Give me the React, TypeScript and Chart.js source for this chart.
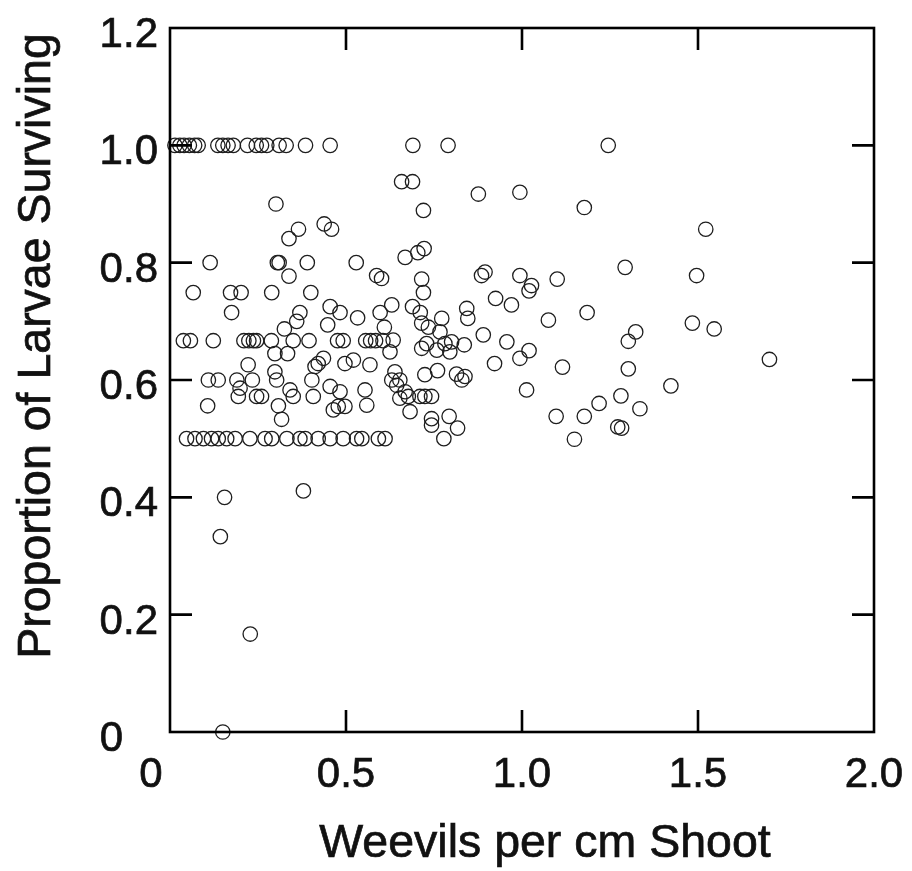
import React, { useEffect, useRef } from 'react';
import { Chart, registerables } from 'chart.js';

Chart.register(...registerables);

// ---- Data ----
// Points at full survival (1.0)
const fullX = [0.014, 0.028, 0.04, 0.055, 0.07, 0.08, 0.136, 0.15, 0.165, 0.18, 0.22, 0.245, 0.26, 0.275, 0.31, 0.33, 0.385, 0.455, 0.69, 0.79, 1.245];
const fullY = [1.0, 1.0, 1.0, 1.0, 1.0, 1.0, 1.0, 1.0, 1.0, 1.0, 1.0, 1.0, 1.0, 1.0, 1.0, 1.0, 1.0, 1.0, 1.0, 1.0, 1.0];

// Points at two-thirds survival
const twoThirdsX = [0.038, 0.058, 0.123, 0.21, 0.224, 0.237, 0.246, 0.288, 0.35, 0.395, 0.476, 0.492, 0.556, 0.57, 0.584, 0.605];
const twoThirdsY = [0.667, 0.667, 0.667, 0.667, 0.667, 0.667, 0.667, 0.667, 0.667, 0.667, 0.667, 0.667, 0.667, 0.667, 0.667, 0.667];

// Points at half survival
const halfX = [0.047, 0.071, 0.095, 0.118, 0.137, 0.161, 0.185, 0.227, 0.27, 0.289, 0.332, 0.369, 0.384, 0.421, 0.455, 0.492, 0.53, 0.545, 0.592, 0.611];
const halfY = [0.5, 0.5, 0.5, 0.5, 0.5, 0.5, 0.5, 0.5, 0.5, 0.5, 0.5, 0.5, 0.5, 0.5, 0.5, 0.5, 0.5, 0.5, 0.5, 0.5];

// Scattered points, low density (x < ~0.62)
const lowDensX = [
  0.301, 0.365, 0.338, 0.438, 0.459, 0.114, 0.305, 0.31, 0.39, 0.529, 0.338, 0.587, 0.601, 0.066, 0.172, 0.202,
  0.289, 0.40, 0.175, 0.369, 0.36, 0.325, 0.455, 0.483, 0.533, 0.597, 0.448,
  0.298, 0.334, 0.222, 0.421, 0.412, 0.436, 0.497, 0.521, 0.568, 0.109, 0.137, 0.19, 0.234, 0.298, 0.303, 0.403,
  0.199, 0.194, 0.246, 0.26, 0.341, 0.35, 0.407, 0.455, 0.483, 0.554, 0.464, 0.478, 0.497, 0.559, 0.107, 0.308, 0.317,
  0.155, 0.143, 0.228, 0.15, 0.379,
];
const lowDensY = [
  0.90, 0.857, 0.841, 0.866, 0.857, 0.80, 0.80, 0.80, 0.80, 0.80, 0.777, 0.778, 0.773, 0.749, 0.749, 0.749,
  0.749, 0.749, 0.715, 0.715, 0.70, 0.687, 0.725, 0.715, 0.706, 0.715, 0.694,
  0.645, 0.645, 0.626, 0.628, 0.623, 0.637, 0.628, 0.634, 0.626, 0.60, 0.60, 0.60, 0.60, 0.614, 0.60, 0.60,
  0.586, 0.572, 0.572, 0.572, 0.583, 0.572, 0.572, 0.589, 0.58, 0.583, 0.549, 0.555, 0.555, 0.557, 0.556, 0.556, 0.533,
  0.40, 0.333, 0.167, 0.0, 0.411,
];

// Scattered points, medium density (0.6 <= x < 1.2)
const midDensX = [
  0.658, 0.689, 0.876, 0.994, 1.177, 0.72, 0.668, 0.704, 0.722, 0.715, 0.72, 0.885, 0.895, 0.994, 1.027, 1.02,
  1.10, 0.925, 0.97, 1.185, 0.63, 0.609, 0.689, 0.711, 0.772, 0.843, 0.846, 1.075, 0.715, 0.734,
  0.767, 0.634, 0.625, 0.715, 0.729, 0.758, 0.781, 0.80, 0.795, 0.836, 0.89, 0.957, 0.994, 1.02, 0.922, 1.115,
  0.639, 0.63, 0.653, 0.644, 0.724, 0.76, 0.814, 0.838, 0.829, 0.653, 0.668, 0.677, 0.71, 0.724, 0.743, 1.013,
  0.682, 0.743, 0.743, 0.793, 0.817, 0.778, 1.097, 1.177, 1.149,
];
const midDensY = [
  0.938, 0.938, 0.917, 0.92, 0.894, 0.889, 0.809, 0.817, 0.824, 0.772, 0.749, 0.778, 0.784, 0.778, 0.761, 0.752,
  0.772, 0.739, 0.728, 0.715, 0.728, 0.69, 0.725, 0.715, 0.705, 0.722, 0.705, 0.702, 0.697, 0.69,
  0.682, 0.668, 0.648, 0.654, 0.662, 0.651, 0.662, 0.665, 0.648, 0.66, 0.677, 0.665, 0.637, 0.65, 0.628, 0.622,
  0.614, 0.60, 0.60, 0.591, 0.609, 0.616, 0.61, 0.606, 0.60, 0.569, 0.58, 0.572, 0.572, 0.572, 0.572, 0.583,
  0.546, 0.534, 0.523, 0.538, 0.518, 0.50, 0.538, 0.538, 0.499,
];

// Scattered points, high density (x >= 1.2)
const highDensX = [1.522, 1.293, 1.496, 1.484, 1.546, 1.323, 1.302, 1.703, 1.302, 1.423, 1.281, 1.219, 1.335, 1.272, 1.283];
const highDensY = [0.857, 0.792, 0.778, 0.697, 0.687, 0.682, 0.666, 0.635, 0.619, 0.59, 0.573, 0.56, 0.551, 0.52, 0.518];

// Axis ticks and labels
const xTickValues = [0, 0.5, 1.0, 1.5, 2.0];
const xTickLabels = ['0', '0.5', '1.0', '1.5', '2.0'];
const yTickValues = [0, 0.2, 0.4, 0.6, 0.8, 1.0, 1.2];
const yTickLabels = ['0', '0.2', '0.4', '0.6', '0.8', '1.0', '1.2'];
const xTitle = 'Weevils per cm Shoot';
const yTitle = 'Proportion of Larvae Surviving';

const FONT = '"Liberation Sans", Arial, Helvetica, sans-serif';
const TICK_LEN = 22;

function pairs(xs: number[], ys: number[]) {
  return xs.map((x, i) => ({ x, y: ys[i] }));
}

function heavyText(ctx: CanvasRenderingContext2D, text: string, x: number, y: number) {
  ctx.fillText(text, x, y);
  ctx.strokeText(text, x, y);
}

export default function App() {
  const ref = useRef<HTMLCanvasElement>(null);

  useEffect(() => {
    const canvas = ref.current;
    if (!canvas) return;

    const points = [
      ...pairs(fullX, fullY),
      ...pairs(twoThirdsX, twoThirdsY),
      ...pairs(halfX, halfY),
      ...pairs(lowDensX, lowDensY),
      ...pairs(midDensX, midDensY),
      ...pairs(highDensX, highDensY),
    ];

    const framePlugin = {
      id: 'frameAndLabels',
      afterDatasetsDraw(chart: any) {
        const { ctx, chartArea: a, scales } = chart;
        const xs = scales.x;
        const ys = scales.y;
        ctx.save();
        ctx.strokeStyle = '#000';
        ctx.lineWidth = 2.6;
        ctx.strokeRect(a.left, a.top, a.right - a.left, a.bottom - a.top);

        // inward ticks on all four sides
        ctx.beginPath();
        xTickValues.forEach((v) => {
          const px = xs.getPixelForValue(v);
          if (px <= a.left + 1 || px >= a.right - 1) return;
          ctx.moveTo(px, a.bottom);
          ctx.lineTo(px, a.bottom - TICK_LEN);
          ctx.moveTo(px, a.top);
          ctx.lineTo(px, a.top + TICK_LEN);
        });
        yTickValues.forEach((v) => {
          const py = ys.getPixelForValue(v);
          if (py <= a.top + 1 || py >= a.bottom - 1) return;
          ctx.moveTo(a.left, py);
          ctx.lineTo(a.left + TICK_LEN, py);
          ctx.moveTo(a.right, py);
          ctx.lineTo(a.right - TICK_LEN, py);
        });
        ctx.stroke();

        // tick labels
        ctx.fillStyle = '#111';
        ctx.strokeStyle = '#111';
        ctx.lineWidth = 0.7;
        ctx.font = `42px ${FONT}`;
        ctx.textBaseline = 'alphabetic';
        ctx.textAlign = 'right';
        yTickValues.forEach((v, i) => {
          const py = ys.getPixelForValue(v);
          const xOff = v === 0 ? 47 : 12;
          heavyText(ctx, yTickLabels[i], a.left - xOff, py + 19);
        });
        ctx.textAlign = 'center';
        xTickValues.forEach((v, i) => {
          const px = xs.getPixelForValue(v);
          const xOff = v === 0 ? -19 : 0;
          heavyText(ctx, xTickLabels[i], px + xOff, a.bottom + 55);
        });

        // axis titles
        ctx.font = `46.5px ${FONT}`;
        ctx.textAlign = 'center';
        heavyText(ctx, xTitle, (a.left + a.right) / 2 + 23, a.bottom + 125);
        ctx.save();
        ctx.translate(a.left - 120, (a.top + a.bottom) / 2 - 34);
        ctx.rotate(-Math.PI / 2);
        heavyText(ctx, yTitle, 0, 0);
        ctx.restore();

        ctx.restore();
      },
    };

    const chart = new Chart(canvas, {
      type: 'scatter',
      data: {
        datasets: [
          {
            data: points,
            pointStyle: 'circle',
            pointRadius: 7.2,
            pointHoverRadius: 7.2,
            pointBorderWidth: 1.3,
            borderColor: '#1e1e1e',
            backgroundColor: 'rgba(0,0,0,0)',
            clip: false,
          } as any,
        ],
      },
      options: {
        animation: false,
        responsive: false,
        devicePixelRatio: 1,
        events: [],
        layout: { padding: { left: 170, top: 28, right: 38, bottom: 139 } },
        plugins: { legend: { display: false }, tooltip: { enabled: false } },
        scales: {
          x: { type: 'linear', min: 0, max: 2, display: false },
          y: { type: 'linear', min: 0, max: 1.2, display: false },
        },
      },
      plugins: [framePlugin],
    });

    return () => chart.destroy();
  }, []);

  return (
    <div style={{ position: 'absolute', left: 0, top: 0, width: 912, height: 871, background: '#fff' }}>
      <canvas ref={ref} width={912} height={871} style={{ display: 'block', width: 912, height: 871 }} />
    </div>
  );
}
